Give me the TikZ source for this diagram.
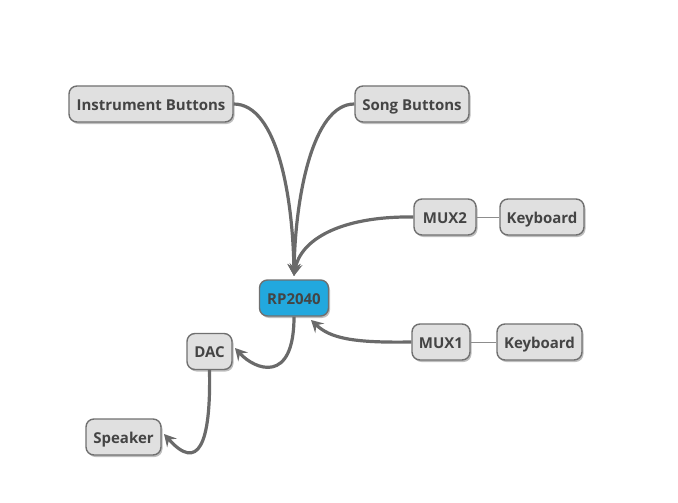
\documentclass[tikz,border=0pt]{standalone}
\usepackage{fontspec}
\setmainfont{Open Sans}
\usetikzlibrary{shadows,arrows.meta}
\definecolor{boxfill}{HTML}{E0E0E0}
\definecolor{boxdraw}{HTML}{707070}
\definecolor{txt}{HTML}{444444}
\definecolor{edge}{HTML}{6A6A6A}
\definecolor{chip}{HTML}{22A8DE}
\tikzset{
  box/.style={draw=boxdraw, line width=1.4pt, fill=boxfill, rounded corners=8pt,
    minimum height=36pt, inner xsep=5pt, text=txt, font=\bfseries\fontsize{15}{18}\selectfont,
    text height=12.5pt, text depth=0pt,
    drop shadow={shadow xshift=1.5pt, shadow yshift=-2pt, fill=black, opacity=0.25}},
  conn/.style={draw=edge, line width=3.2pt, -{Stealth[length=12pt,width=13pt,inset=4.5pt]}},
  thin/.style={draw=boxdraw!80, line width=1pt}
}
\begin{document}
\begin{tikzpicture}[x=1pt,y=-1pt]
\useasboundingbox (0,0) rectangle (678,503);
\node[box, minimum width=164pt] (ib) at (151,104) {Instrument Buttons};
\node[box, minimum width=114pt] (sb) at (412,104) {Song Buttons};
\node[box, minimum width=62pt] (m2) at (445,217) {MUX2};
\node[box, minimum width=84pt] (k2) at (542,217) {Keyboard};
\node[box, fill=chip, minimum width=69pt] (rp) at (294,298) {RP2040};
\node[box, minimum width=45pt] (dac) at (209.5,351.5) {DAC};
\node[box, minimum width=58pt] (m1) at (441,342) {MUX1};
\node[box, minimum width=85pt] (k1) at (539.5,342) {Keyboard};
\node[box, minimum width=75pt] (sp) at (123.5,437) {Speaker};
\coordinate (rptop) at (294,276);
\coordinate (rpin) at (311,320);
\coordinate (dacin) at (235,348);
\coordinate (spin) at (164,434);
\draw[thin] (m2) -- (k2);
\draw[thin] (m1) -- (k1);
\draw[conn] (ib.east) .. controls (278,104) and (293,200) .. (rptop);
\draw[conn] (sb.west) .. controls (312,104) and (295,200) .. (rptop);
\draw[conn] (m2.west) .. controls (340,216) and (300,240) .. (rptop);
\draw[conn] (m1.west) .. controls (352,343) and (330,338) .. (rpin);
\draw[conn] (rp.south) .. controls (294,385) and (255,370) .. (dacin);
\draw[conn] (dac.south) .. controls (211,445) and (198,472) .. (spin);
\end{tikzpicture}
\end{document}
